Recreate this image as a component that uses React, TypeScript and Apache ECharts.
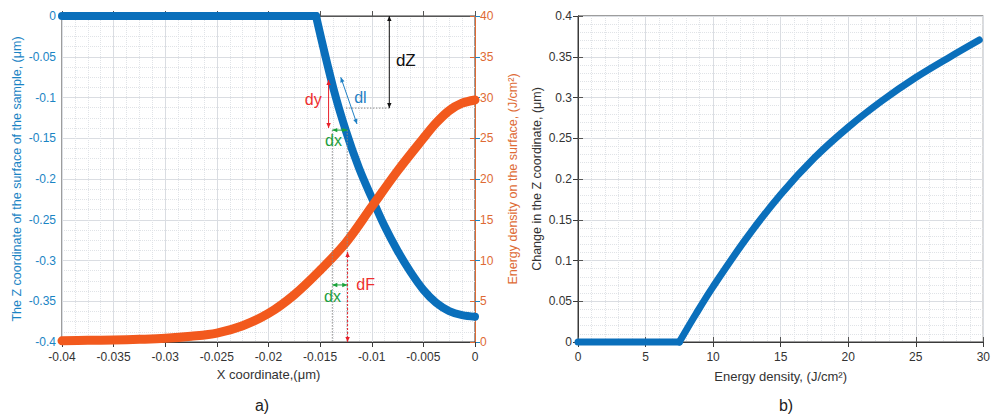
import React, { useEffect, useRef } from 'react';
import * as echarts from 'echarts';

// ---- data ----
// a) energy density on the surface (right axis, J/cm²) vs X coordinate (µm)
const xCoord = [-0.04, -0.0375, -0.035, -0.0325, -0.03, -0.0275, -0.025, -0.0225, -0.02, -0.0175, -0.015, -0.0125, -0.01, -0.0075, -0.005, -0.00375, -0.0025, -0.00125, 0];
const energy = [0.15, 0.2, 0.25, 0.33, 0.45, 0.7, 1.1, 2.0, 3.5, 5.8, 8.8, 12.2, 16.6, 21.0, 25.0, 26.9, 28.4, 29.3, 29.7];
// a) Z coordinate of the surface (left axis, µm) vs X coordinate; index 1 is the ablation onset
const zX = [-0.04, -0.0154, -0.01375, -0.0125, -0.01125, -0.01, -0.00875, -0.0075, -0.00625, -0.005, -0.00375, -0.0025, -0.00125, 0];
const zVal = [0, 0, -0.087, -0.141, -0.186, -0.223, -0.258, -0.288, -0.314, -0.336, -0.352, -0.362, -0.367, -0.369];
// b) change in Z coordinate vs energy density; index 1 is the threshold
const fluence = [0, 7.5, 8.75, 10, 12.5, 15, 17.5, 20, 22.5, 25, 27.5, 29.7];
const dz = [0, 0, 0.035, 0.068, 0.128, 0.181, 0.226, 0.2635, 0.296, 0.3245, 0.3495, 0.3705];

// annotation geometry (in data units of panel a: x, left-axis z)
const annoArrows = [
  { from: [-0.0083, 0], to: [-0.0083, -0.113], color: '#111111', dashed: false },
  { from: [-0.013, -0.0752], to: [-0.01143, -0.1325], color: '#1f80c4', dashed: false },
  { from: [-0.01418, -0.0785], to: [-0.01418, -0.1374], color: '#e8202a', dashed: false },
  { from: [-0.01382, -0.14], to: [-0.01237, -0.14], color: '#1aa23a', dashed: false },
  { from: [-0.01382, -0.330], to: [-0.01237, -0.330], color: '#1aa23a', dashed: false },
  { from: [-0.01234, -0.2896], to: [-0.01234, -0.4], color: '#e8202a', dashed: true },
];
const annoGuides = [
  { from: [-0.0125, -0.113], to: [-0.0083, -0.113] },
  { from: [-0.01382, -0.14], to: [-0.01382, -0.4] },
  { from: [-0.01237, -0.14], to: [-0.01237, -0.4] },
];
const annoTexts = [
  { text: 'dZ', at: [-0.0067, -0.054], color: '#111111', size: 17 },
  { text: 'dl', at: [-0.0111, -0.100], color: '#1f80c4', size: 16 },
  { text: 'dy', at: [-0.01566, -0.103], color: '#ee2f2f', size: 16 },
  { text: 'dx', at: [-0.01371, -0.153], color: '#1e9e3e', size: 16 },
  { text: 'dx', at: [-0.0138, -0.3436], color: '#1e9e3e', size: 16 },
  { text: 'dF', at: [-0.0106, -0.330], color: '#ee2f2f', size: 16 },
];

const FONT = 'Liberation Sans, Arial, Helvetica, sans-serif';
const BLUE = '#0a6fbb';
const ORANGE = '#f2591d';
const AX_BLUE = '#1a84c4';
const AX_ORANGE = '#de6a34';
const TXT = '#333333';
const GRID_MAJOR = '#dadde2';
const GRID_MINOR = '#e0e3e7';

const fmt = (v: number) => String(+Number(v).toFixed(4));

function majorSplit() {
  return { show: true, lineStyle: { color: GRID_MAJOR, width: 1 } };
}
function minorSplit() {
  return { show: true, lineStyle: { color: GRID_MINOR, width: 1, type: 'dotted' } };
}

function arrow(p1: number[], p2: number[], color: string, dashed: boolean) {
  const dx = p2[0] - p1[0];
  const dy = p2[1] - p1[1];
  const len = Math.hypot(dx, dy) || 1;
  const ux = dx / len;
  const uy = dy / len;
  const L = 5;
  const W = 2.2;
  const head = (p: number[], s: number) => ({
    type: 'polygon',
    silent: true,
    shape: {
      points: [
        [p[0], p[1]],
        [p[0] - s * ux * L - uy * W, p[1] - s * uy * L + ux * W],
        [p[0] - s * ux * L + uy * W, p[1] - s * uy * L - ux * W],
      ],
    },
    style: { fill: color },
  });
  return [
    {
      type: 'line',
      silent: true,
      shape: { x1: p1[0], y1: p1[1], x2: p2[0], y2: p2[1] },
      style: { stroke: color, lineWidth: 1, lineDash: dashed ? [2, 2] : null },
    },
    head(p2, 1),
    head(p1, -1),
  ];
}

const pairs = (xs: number[], ys: number[]) => xs.map((x, i) => [x, ys[i]]);

function lineSeries(xi: number, yi: number, data: number[][], color: string, width: number, smooth: number | boolean, z: number) {
  return {
    type: 'line', xAxisIndex: xi, yAxisIndex: yi, clip: false, smooth, showSymbol: false, symbol: 'none',
    data,
    lineStyle: { color, width, cap: 'round', join: 'round' },
    z,
  };
}

export default function App() {
  const ref = useRef<HTMLDivElement>(null);

  useEffect(() => {
    const chart = echarts.init(ref.current as HTMLDivElement, null, { renderer: 'svg' });

    const blueA = pairs(zX, zVal);
    const orangeA = pairs(xCoord, energy);
    const curveB = pairs(fluence, dz);

    const option: any = {
      animation: false,
      backgroundColor: '#ffffff',
      textStyle: { fontFamily: FONT },
      grid: [
        { left: 62, right: 518, top: 16, bottom: 74, show: true, borderColor: '#3a3a3a', borderWidth: 1, backgroundColor: '#ffffff' },
        { left: 578, right: 4, top: 16, bottom: 74, show: true, borderColor: '#3a3a3a', borderWidth: 1, backgroundColor: '#ffffff' },
      ],
      xAxis: [
        {
          type: 'value', gridIndex: 0, min: -0.04, max: 0, interval: 0.005, position: 'bottom',
          name: 'X coordinate,(μm)', nameLocation: 'middle', nameGap: 26,
          nameTextStyle: { color: TXT, fontSize: 13, fontFamily: FONT },
          axisLine: { show: true, lineStyle: { color: '#555555' } },
          axisTick: { show: true, inside: true, length: 5, lineStyle: { color: '#555555' } },
          axisLabel: { color: TXT, fontSize: 12, fontFamily: FONT, margin: 9, formatter: fmt },
          splitLine: majorSplit(),
          minorTick: { show: false, splitNumber: 4 },
          minorSplitLine: minorSplit(),
        },
        {
          type: 'value', gridIndex: 0, min: -0.04, max: 0, interval: 0.005, position: 'top',
          axisLine: { show: true, lineStyle: { color: '#3a3a3a' } },
          axisTick: { show: true, inside: true, length: 5, lineStyle: { color: '#3a3a3a' } },
          axisLabel: { show: false }, splitLine: { show: false },
        },
        {
          type: 'value', gridIndex: 1, min: 0, max: 30, interval: 5, position: 'bottom',
          name: 'Energy density, (J/cm²)', nameLocation: 'middle', nameGap: 28,
          nameTextStyle: { color: TXT, fontSize: 13, fontFamily: FONT },
          axisLine: { show: true, lineStyle: { color: '#555555' } },
          axisTick: { show: true, inside: true, length: 5, lineStyle: { color: '#555555' } },
          axisLabel: { color: TXT, fontSize: 12, fontFamily: FONT, margin: 9, formatter: fmt },
          splitLine: majorSplit(),
          minorTick: { show: false, splitNumber: 5 },
          minorSplitLine: minorSplit(),
        },
        {
          type: 'value', gridIndex: 1, min: 0, max: 30, interval: 5, position: 'top',
          axisLine: { show: true, lineStyle: { color: '#3a3a3a' } },
          axisTick: { show: true, inside: true, length: 5, lineStyle: { color: '#3a3a3a' } },
          axisLabel: { show: false }, splitLine: { show: false },
        },
      ],
      yAxis: [
        {
          type: 'value', gridIndex: 0, min: -0.4, max: 0, interval: 0.05, position: 'left',
          name: 'The Z coordinate of the surface of the sample, (μm)', nameLocation: 'middle', nameGap: 39,
          nameTextStyle: { color: AX_BLUE, fontSize: 12.5, fontFamily: FONT },
          axisLine: { show: true, lineStyle: { color: AX_BLUE } },
          axisTick: { show: true, inside: true, length: 5, lineStyle: { color: AX_BLUE } },
          axisLabel: { color: AX_BLUE, fontSize: 12, fontFamily: FONT, margin: 6, formatter: fmt },
          splitLine: majorSplit(),
          minorTick: { show: false, splitNumber: 4 },
          minorSplitLine: minorSplit(),
        },
        {
          type: 'value', gridIndex: 0, min: 0, max: 40, interval: 5, position: 'right',
          name: 'Energy density on the surface, (J/cm²)', nameLocation: 'middle', nameGap: 31, nameRotate: 90,
          nameTextStyle: { color: AX_ORANGE, fontSize: 12.5, fontFamily: FONT },
          axisLine: { show: true, lineStyle: { color: AX_ORANGE } },
          axisTick: { show: true, inside: true, length: 5, lineStyle: { color: AX_ORANGE } },
          axisLabel: { color: AX_ORANGE, fontSize: 12, fontFamily: FONT, margin: 5, formatter: fmt },
          splitLine: { show: false },
        },
        {
          type: 'value', gridIndex: 1, min: 0, max: 0.4, interval: 0.05, position: 'left',
          name: 'Change in the Z coordinate, (μm)', nameLocation: 'middle', nameGap: 35,
          nameTextStyle: { color: TXT, fontSize: 12.5, fontFamily: FONT },
          axisLine: { show: true, lineStyle: { color: '#555555' } },
          axisTick: { show: true, inside: true, length: 5, lineStyle: { color: '#555555' } },
          axisLabel: { color: TXT, fontSize: 12, fontFamily: FONT, margin: 6, formatter: fmt },
          splitLine: majorSplit(),
          minorTick: { show: false, splitNumber: 5 },
          minorSplitLine: minorSplit(),
        },
        {
          type: 'value', gridIndex: 1, min: 0, max: 0.4, interval: 0.05, position: 'right',
          axisLine: { show: true, lineStyle: { color: '#3a3a3a' } },
          axisTick: { show: true, inside: true, length: 5, lineStyle: { color: '#3a3a3a' } },
          axisLabel: { show: false }, splitLine: { show: false },
        },
      ],
      series: [
        // blue surface profile: flat part, then the ablated (curved) part
        lineSeries(0, 0, blueA.slice(0, 2), BLUE, 8, false, 3),
        lineSeries(0, 0, blueA.slice(1), BLUE, 8, 0.35, 3),
        // orange energy density
        lineSeries(0, 1, orangeA, ORANGE, 9, 0.35, 4),
        // panel b
        lineSeries(2, 2, curveB.slice(0, 2), BLUE, 7, false, 3),
        lineSeries(2, 2, curveB.slice(1), BLUE, 7, 0.35, 3),
      ],
    };

    chart.setOption(option);

    const toPx = (p: number[]) => chart.convertToPixel({ xAxisIndex: 0, yAxisIndex: 0 }, p) as number[];
    const elements: any[] = [];
    annoGuides.forEach((g) => {
      const a = toPx(g.from);
      const b = toPx(g.to);
      elements.push({
        type: 'line', silent: true, z: 10,
        shape: { x1: a[0], y1: a[1], x2: b[0], y2: b[1] },
        style: { stroke: '#8a8a8a', lineWidth: 1, lineDash: [1.5, 1.5] },
      });
    });
    annoArrows.forEach((ar) => {
      arrow(toPx(ar.from), toPx(ar.to), ar.color, ar.dashed).forEach((e) => elements.push({ ...e, z: 11 }));
    });
    annoTexts.forEach((t) => {
      const p = toPx(t.at);
      elements.push({
        type: 'text', silent: true, z: 12, x: p[0], y: p[1],
        style: { text: t.text, fill: t.color, fontSize: t.size, fontFamily: FONT, align: 'center', verticalAlign: 'middle' },
      });
    });
    elements.push({
      type: 'text', silent: true, x: 262, y: 405,
      style: { text: 'a)', fill: '#222222', fontSize: 16, fontFamily: FONT, align: 'center', verticalAlign: 'middle' },
    });
    elements.push({
      type: 'text', silent: true, x: 786, y: 405,
      style: { text: 'b)', fill: '#222222', fontSize: 16, fontFamily: FONT, align: 'center', verticalAlign: 'middle' },
    });
    chart.setOption({ graphic: elements });

    return () => chart.dispose();
  }, []);

  return <div ref={ref} style={{ position: 'fixed', left: 0, top: 0, width: 993, height: 416 }} />;
}
